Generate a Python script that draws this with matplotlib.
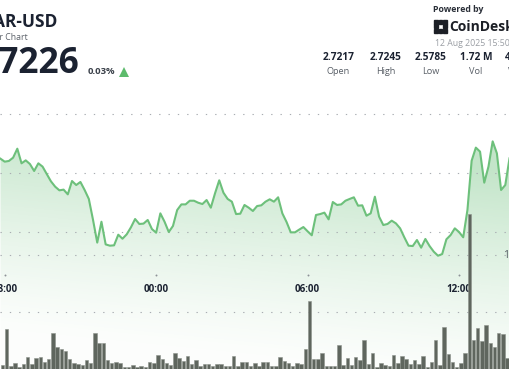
import numpy as np
import matplotlib
matplotlib.use("Agg")
import matplotlib.pyplot as plt
import matplotlib.transforms as mtransforms
from matplotlib.lines import Line2D
from matplotlib.patches import Rectangle

plt.rcParams["font.family"] = ["Open Sans", "DejaVu Sans"]

W, H = 510, 369

# AR-USD, 10 minute steps counted from 18:00 (first value is step -1)
price = [
    2.7121, 2.7096, 2.7102, 2.7130, 2.7206, 2.7082, 2.7107, 2.7076, 2.7017, 2.7082,
    2.7054, 2.6991, 2.6929, 2.6884, 2.6853, 2.6859, 2.6819, 2.6932, 2.6898, 2.6924,
    2.6856, 2.6780, 2.6602, 2.6410, 2.6587, 2.6395, 2.6384, 2.6387, 2.6477, 2.6443,
    2.6480, 2.6539, 2.6610, 2.6568, 2.6571, 2.6602, 2.6525, 2.6494, 2.6658, 2.6587,
    2.6500, 2.6551, 2.6686, 2.6734, 2.6734, 2.6765, 2.6765, 2.6748, 2.6737, 2.6771,
    2.6706, 2.6828, 2.6938, 2.6833, 2.6780, 2.6757, 2.6652, 2.6655, 2.6729, 2.6706,
    2.6678, 2.6720, 2.6726, 2.6757, 2.6777, 2.6757, 2.6794, 2.6658, 2.6585, 2.6497,
    2.6497, 2.6520, 2.6542, 2.6506, 2.6472, 2.6644, 2.6652, 2.6664, 2.6607, 2.6754,
    2.6729, 2.6734, 2.6765, 2.6780, 2.6794, 2.6723, 2.6726, 2.6638, 2.6658, 2.6799,
    2.6630, 2.6559, 2.6568, 2.6596, 2.6573, 2.6531, 2.6455, 2.6384, 2.6381, 2.6432,
    2.6367, 2.6441, 2.6381, 2.6333, 2.6299, 2.6313, 2.6438, 2.6474, 2.6531, 2.6500,
    2.6455, 2.6686, 2.7104, 2.7215, 2.7181, 2.6918, 2.7054, 2.7268, 2.7167, 2.6856,
    2.6898, 2.7124,
]
# volume per 10 minute bar, in thousands
volume_k = [
    3.5, 34.8, 2.9, 5.0, 1.5, 4.1, 10.3, 4.1, 9.4, 10.3,
    6.4, 8.5, 31.3, 19.6, 17.3, 15.8, 8.5, 5.0, 4.1, 3.5,
    7.6, 5.3, 31.3, 23.1, 23.1, 7.6, 5.0, 5.9, 5.0, 2.0,
    2.0, 3.2, 1.8, 2.9, 1.8, 5.9, 5.5, 12.3, 8.5, 5.5,
    3.5, 14.3, 9.4, 7.0, 11.7, 4.4, 7.6, 2.6, 4.4, 4.4,
    2.6, 4.4, 4.4, 2.6, 2.9, 11.4, 2.6, 6.4, 6.4, 2.6,
    5.0, 2.6, 5.9, 6.4, 2.9, 2.9, 10.8, 7.0, 5.0, 2.9,
    5.5, 4.1, 17.8, 59.6, 8.5, 8.5, 13.8, 2.9, 2.6, 2.6,
    21.1, 3.5, 9.4, 3.5, 10.3, 7.9, 25.4, 4.4, 14.3, 2.0,
    5.0, 3.5, 2.9, 12.3, 5.0, 11.4, 8.5, 4.1, 7.9, 4.1,
    11.4, 2.0, 6.4, 25.4, 3.5, 36.6, 13.2, 6.4, 2.0, 5.5,
    14.3, 136.0, 25.4, 36.2, 24.8, 38.3, 22.5, 19.6, 31.3, 30.7,
    9.4,
]
time_ticks = [0, 36, 72, 108]
time_labels = ["18:00", "00:00", "06:00", "12:00"]
price_grid = [2.65, 2.70, 2.75]
vol_grid = [50, 100]
stat_values = ["2.7217", "2.7245", "2.5785", "1.72 M", "4.66 M"]
stat_names = ["Open", "High", "Low", "Vol", "VWAP"]

steps = np.arange(-1, len(price) - 1)
vsteps = np.arange(-1, len(volume_k) - 1)

XLIM = (-1.117, 120.12)
PLIM = (2.5339, 2.8466)
VLIM = (0, 323.7)
LINE = "#6dc07b"
DARK = "#1b2231"


def fx(x):
    return x / W


def fy(y):
    return 1 - y / H


fig = plt.figure(figsize=(W / 100, H / 100), dpi=100)
fig.patch.set_facecolor("white")

ax = fig.add_axes([0, 0, 1, 1])
axv = fig.add_axes([0, 0, 1, 1])
axl = fig.add_axes([0, 0, 1, 1])
for a in (ax, axv, axl):
    a.set_xlim(*XLIM)
    a.axis("off")
for a in (axv, axl):
    a.patch.set_visible(False)
ax.set_ylim(*PLIM)
axl.set_ylim(*PLIM)
axv.set_ylim(*VLIM)

# gradient area under the price line
xs = np.linspace(0, W, W)[None, :]
ys = np.linspace(0, H, H)[:, None]
t = np.clip((ys - 0.1 * xs - 120) / 215, 0, 1)
img = np.zeros((H, W, 4))
img[..., 0] = 0.44
img[..., 1] = 0.76
img[..., 2] = 0.50
img[..., 3] = 0.02 + 0.40 * (1 - t) ** 1.3
poly = ax.fill_between(steps, price, PLIM[0], color="none", lw=0)
im = ax.imshow(img, extent=(XLIM[0], XLIM[1], PLIM[0], PLIM[1]), aspect="auto",
               origin="upper", zorder=1)
im.set_clip_path(poly.get_paths()[0], transform=ax.transData)
ax.set_xlim(*XLIM)
ax.set_ylim(*PLIM)

dots = (0, (1.2, 7.2))
for g in price_grid:
    ax.axhline(g, color="#a9adb2", lw=0.8, ls=dots, zorder=2)
for g in vol_grid:
    axv.axhline(g, color="#a9adb2", lw=0.8, ls=dots, zorder=0)
axv.text(1.0 - 7 / W, 100, "100K",
         transform=mtransforms.blended_transform_factory(axv.transAxes, axv.transData),
         ha="left", va="center", fontsize=7.5, color="#555b63")

axv.bar(vsteps + 0.45, volume_k, width=0.82, color="#5f665e", edgecolor="#8c928b",
        lw=0.4, zorder=3)

axl.plot(steps, price, color=LINE, lw=1.5, solid_joinstyle="round", zorder=4)

# time axis
tr = mtransforms.blended_transform_factory(ax.transData, ax.transAxes)
for tk, lb in zip(time_ticks, time_labels):
    ax.plot([tk], [fy(275)], marker="o", ms=1.4, color="#8d9197", mew=0,
            transform=tr, zorder=5, clip_on=False)
    ax.text(tk, fy(289), lb, transform=tr, ha="center", va="center",
            fontsize=7, fontweight="bold", color=DARK, zorder=5)

# header
fig.text(fx(57), fy(22), "AR-USD", ha="right", va="center", fontsize=12.5,
         fontweight="bold", color=DARK)
fig.text(fx(28), fy(37), "24 Hour Chart", ha="right", va="center", fontsize=6.3,
         color="#5d636b")
fig.text(fx(79), fy(64), "2.7226", ha="right", va="center", fontsize=25.5,
         fontweight="bold", color=DARK)
fig.text(fx(88), fy(72), "0.03%", ha="left", va="center", fontsize=6.8,
         fontweight="bold", color="#3a4049")
fig.add_artist(Line2D([fx(124)], [fy(71.5)], marker="^", ms=7, color="#5dbb6c",
                      mew=0, transform=fig.transFigure))

fig.text(fx(433), fy(10), "Powered by", ha="left", va="center", fontsize=6.3,
         fontweight="bold", color="#2a2f38")
for r in range(3):
    for c in range(3):
        if (r, c) == (1, 1):
            continue
        fig.add_artist(Rectangle((fx(434 + c * 4.6), fy(23.5 + r * 4.6)), 3.6 / W, 3.6 / H,
                                 color="#1c1f26", transform=fig.transFigure))
fig.text(fx(449), fy(27), "CoinDesk", ha="left", va="center", fontsize=10,
         fontweight="bold", color="#1c1f26")
fig.text(fx(435), fy(43), "12 Aug 2025 15:50", ha="left", va="center", fontsize=6.3,
         color="#9a9ea4")

stat_x = [338.5, 385.5, 430.5, 476, 521]
for sx, val, name in zip(stat_x, stat_values, stat_names):
    fig.text(fx(sx), fy(58), val, ha="center", va="center", fontsize=7.3,
             fontweight="bold", color=DARK)
    fig.text(fx(sx), fy(71.5), name, ha="center", va="center", fontsize=6.6,
             color="#585e66")

fig.savefig("out.png", dpi=100)
